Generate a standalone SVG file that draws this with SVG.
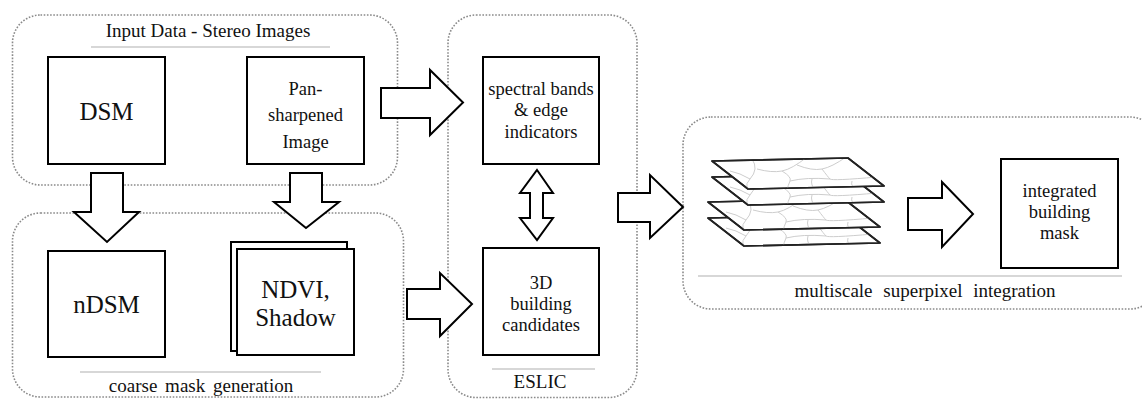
<svg xmlns="http://www.w3.org/2000/svg" width="1142" height="399" viewBox="0 0 1142 399">
  <style>
    .grp { fill: none; stroke: #8a8a8a; stroke-width: 1.6; stroke-dasharray: 1.6 1.6; }
    .rule { stroke: #b0b0b0; stroke-width: 1.2; }
    .box { fill: #fff; stroke: #000; stroke-width: 2; }
    .arrow { fill: #fff; stroke: #000; stroke-width: 2; stroke-linejoin: miter; }
    .layer { fill: #fff; stroke: #222; stroke-width: 1.6; stroke-linejoin: round; }
    .cells { fill: none; stroke: #cdcdcd; stroke-width: 1; }
    .lbl { font-family: 'Liberation Serif', 'DejaVu Serif', serif; fill: #111; text-anchor: middle; }
    .big { font-size: 25px; }
    .mid { font-size: 18.5px; }
    .cap { font-size: 19px; }
  </style>
  <defs>
    <clipPath id="sheetClip">
      <path d="M0,0 L136,-3 L172,25 L36,28 Z"/>
    </clipPath>
    <!-- one superpixel sheet: white parallelogram with faint cell boundaries -->
    <g id="sheet">
      <path class="layer" d="M0,0 L136,-3 L172,25 L36,28 Z"/>
      <g class="cells" clip-path="url(#sheetClip)">
        <path d="M40,-2 Q47,8 38,18 T44,30"/>
        <path d="M45,8 Q60,12 70,10 T95,-4"/>
        <path d="M70,10 Q80,16 78,20 T75,30"/>
        <path d="M85,4 Q100,10 110,8 T134,-4"/>
        <path d="M110,8 Q116,16 118,18 T165,16"/>
        <path d="M78,20 Q95,16 118,18"/>
        <path d="M18,10 Q28,12 38,18"/>
        <path d="M100,18 Q98,24 104,30"/>
        <path d="M140,20 Q138,26 146,30"/>
      </g>
      <path d="M0,0 L136,-3 L172,25 L36,28 Z" fill="none" stroke="#222" stroke-width="1.6" stroke-linejoin="round"/>
    </g>
  </defs>

  <rect width="1142" height="399" fill="#fff"/>

  <!-- stage groups -->
  <g id="input-data">
    <rect class="grp" x="12.5" y="15" width="385" height="170" rx="28"/>
    <text class="lbl cap" x="208" y="37">Input Data - Stereo Images</text>
    <line class="rule" x1="91" y1="47" x2="330" y2="47"/>
  </g>
  <g id="coarse-mask">
    <rect class="grp" x="12.5" y="213" width="391" height="184" rx="28"/>
    <line class="rule" x1="80" y1="372" x2="321" y2="372"/>
    <text class="lbl cap" x="201" y="392" word-spacing="3">coarse mask  generation</text>
  </g>
  <g id="eslic">
    <rect class="grp" x="448" y="15" width="189" height="382.5" rx="28"/>
    <line class="rule" x1="492" y1="369" x2="595" y2="369"/>
    <text class="lbl cap" x="540" y="388">ESLIC</text>
  </g>
  <g id="multiscale">
    <rect class="grp" x="683" y="117" width="475" height="192" rx="28"/>
    <line class="rule" x1="698" y1="276" x2="1122" y2="276"/>
    <text class="lbl cap" x="925" y="297" word-spacing="6">multiscale superpixel integration</text>
  </g>

  <!-- nodes -->
  <g id="dsm">
    <rect class="box" x="48" y="57" width="117" height="107"/>
    <text class="lbl big" x="106.5" y="120">DSM</text>
  </g>
  <g id="pansharpened">
    <rect class="box" x="247" y="57" width="117" height="107"/>
    <text class="lbl mid" x="305.5" y="95">Pan-</text>
    <text class="lbl mid" x="305.5" y="121">sharpened</text>
    <text class="lbl mid" x="305.5" y="148">Image</text>
  </g>
  <g id="ndsm">
    <rect class="box" x="48" y="251" width="117" height="106"/>
    <text class="lbl big" x="106.5" y="313">nDSM</text>
  </g>
  <g id="ndvi-shadow">
    <rect class="box" x="231" y="242" width="116" height="109"/>
    <rect class="box" x="237" y="249" width="117" height="106"/>
    <text class="lbl big" x="295.5" y="298">NDVI,</text>
    <text class="lbl big" x="295.5" y="326">Shadow</text>
  </g>
  <g id="spectral">
    <rect class="box" x="483" y="57" width="116" height="107"/>
    <text class="lbl mid" x="541" y="95">spectral bands</text>
    <text class="lbl mid" x="541" y="116">&amp; edge</text>
    <text class="lbl mid" x="541" y="138">indicators</text>
  </g>
  <g id="candidates">
    <rect class="box" x="483" y="248" width="116" height="107"/>
    <text class="lbl mid" x="541" y="289">3D</text>
    <text class="lbl mid" x="541" y="310">building</text>
    <text class="lbl mid" x="541" y="331">candidates</text>
  </g>
  <g id="superpixel-stack">
    <use href="#sheet" transform="translate(708,218)"/>
    <use href="#sheet" transform="translate(708,202)"/>
    <use href="#sheet" transform="translate(712,177)"/>
    <use href="#sheet" transform="translate(712,161)"/>
  </g>
  <g id="building-mask">
    <rect class="box" x="1001" y="159" width="117" height="109"/>
    <text class="lbl mid" x="1059.5" y="197">integrated</text>
    <text class="lbl mid" x="1059.5" y="218">building</text>
    <text class="lbl mid" x="1059.5" y="239">mask</text>
  </g>

  <!-- connectors: block arrows -->
  <g id="connectors">
    <path class="arrow" d="M381,88 H430 V70 L463,102.5 L430,135 V118 H381 Z"/>
    <path class="arrow" d="M91,173 V212 H74 L107,242 L139,212 H123 V173 Z"/>
    <path class="arrow" d="M290,173 V202 H274 L306,228 L339,202 H322 V173 Z"/>
    <path class="arrow" d="M407,289 H440 V273 L472,304 L440,336 V319 H407 Z"/>
    <path class="arrow" d="M537,170 L553,193 H543 V218 H553 L537,240 L520,218 H530 V193 H520 Z"/>
    <path class="arrow" d="M618,193 H650 V175 L683,207 L650,238 V222 H618 Z"/>
    <path class="arrow" d="M908,198 H942 V182 L973,214 L942,247 V230 H908 Z"/>
  </g>
</svg>
